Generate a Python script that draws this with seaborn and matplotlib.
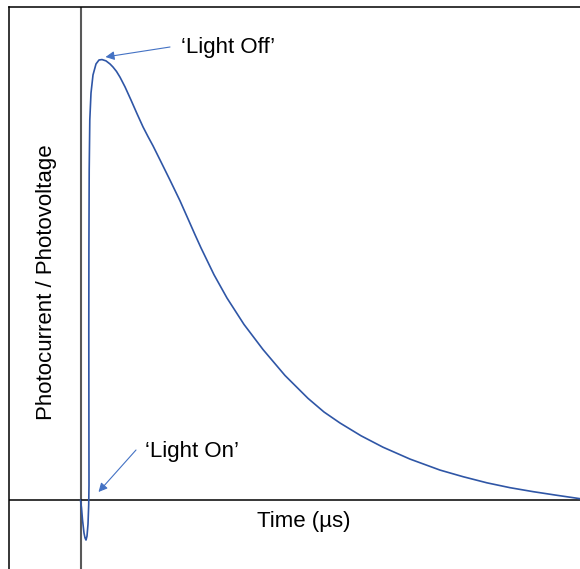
import matplotlib
matplotlib.use("Agg")
import matplotlib.pyplot as plt
import seaborn as sns
import pandas as pd

# Time (µs) and normalised photo-response
time_us = [-0.01, 0.01, 0.03, 0.06, 0.08, 0.10, 0.12, 0.14, 0.154, 0.16,
           0.158, 0.156, 0.158, 0.164, 0.176, 0.20, 0.24, 0.30, 0.36, 0.42,
           0.50, 0.58, 0.64, 0.71, 0.78, 0.88, 1.00, 1.12, 1.24, 1.34, 1.44,
           1.58, 1.78, 1.98, 2.14, 2.28, 2.40, 2.66, 2.92, 3.26, 3.64, 4.08,
           4.54, 4.86, 5.18, 5.60, 6.04, 6.58, 7.18, 7.64, 8.12, 8.58, 9.04,
           9.50, 9.98]
signal = [0.0, -0.018, -0.045, -0.075, -0.086, -0.091, -0.082, -0.055, -0.011, 0.034,
          0.182, 0.386, 0.568, 0.75, 0.864, 0.925, 0.966, 0.991, 1.0, 1.001,
          0.998, 0.991, 0.984, 0.974, 0.961, 0.939, 0.909, 0.878, 0.848, 0.826, 0.805,
          0.773, 0.727, 0.680, 0.639, 0.603, 0.573, 0.512, 0.459, 0.399, 0.342, 0.283,
          0.231, 0.200, 0.175, 0.146, 0.120, 0.093, 0.068, 0.053, 0.039, 0.028, 0.019,
          0.011, 0.003]

x_label = "Time (µs)"
y_label = "Photocurrent / Photovoltage"
label_off = "\u2018Light Off\u2019"
label_on = "\u2018Light On\u2019"

df = pd.DataFrame({"t": time_us, "s": signal})

sns.set_style("white")
plt.rcParams["font.family"] = ["Liberation Sans", "DejaVu Sans"]

W, H = 580, 569
fig = plt.figure(figsize=(W / 100, H / 100), dpi=100)
left_px, top_px = 8.5, 6.5
ax = fig.add_axes([left_px / W, 0, (W - left_px) / W, (H - top_px) / H])

# pixel -> data mapping helpers (layout only)
x0_px, px_per_unit = 81.0, 50.0
y0_px, px_per_sig = 500.0, 440.0
ax.set_xlim((left_px - x0_px) / px_per_unit, (W - x0_px) / px_per_unit)
ax.set_ylim((y0_px - H) / px_per_sig, (y0_px - top_px) / px_per_sig)

for side in ["right", "bottom"]:
    ax.spines[side].set_visible(False)
for side in ["left", "top"]:
    ax.spines[side].set_color("black")
    ax.spines[side].set_linewidth(1.1)
ax.set_xticks([])
ax.set_yticks([])

ax.axvline(0, color="#595959", lw=1.5, zorder=1)
ax.axhline(0, color="black", lw=1.1, zorder=1)

sns.lineplot(data=df, x="t", y="s", sort=False, estimator=None, ax=ax,
             color="#2f56a6", lw=1.2, zorder=3, solid_joinstyle="round")
ax.set_xlabel("")
ax.set_ylabel("")

def px(x, y):
    return ((x - x0_px) / px_per_unit, (y0_px - y) / px_per_sig)

arrow = dict(arrowstyle="-|>", color="#4472c4", lw=0.8, mutation_scale=13,
             shrinkA=0, shrinkB=0)
ax.annotate("", xy=px(105.5, 57), xytext=px(170, 47), arrowprops=arrow)
ax.annotate("", xy=px(98.5, 492), xytext=px(136, 450), arrowprops=arrow)

tk = dict(fontsize=16, ha="center", va="center", color="black")
ax.text(*px(228, 48), label_off, **tk)
ax.text(*px(192, 452), label_on, **tk)
ax.text(*px(304, 522), x_label, **tk)
ax.text(*px(46, 282), y_label, rotation=90, **tk)

fig.savefig("out.png", dpi=100)
